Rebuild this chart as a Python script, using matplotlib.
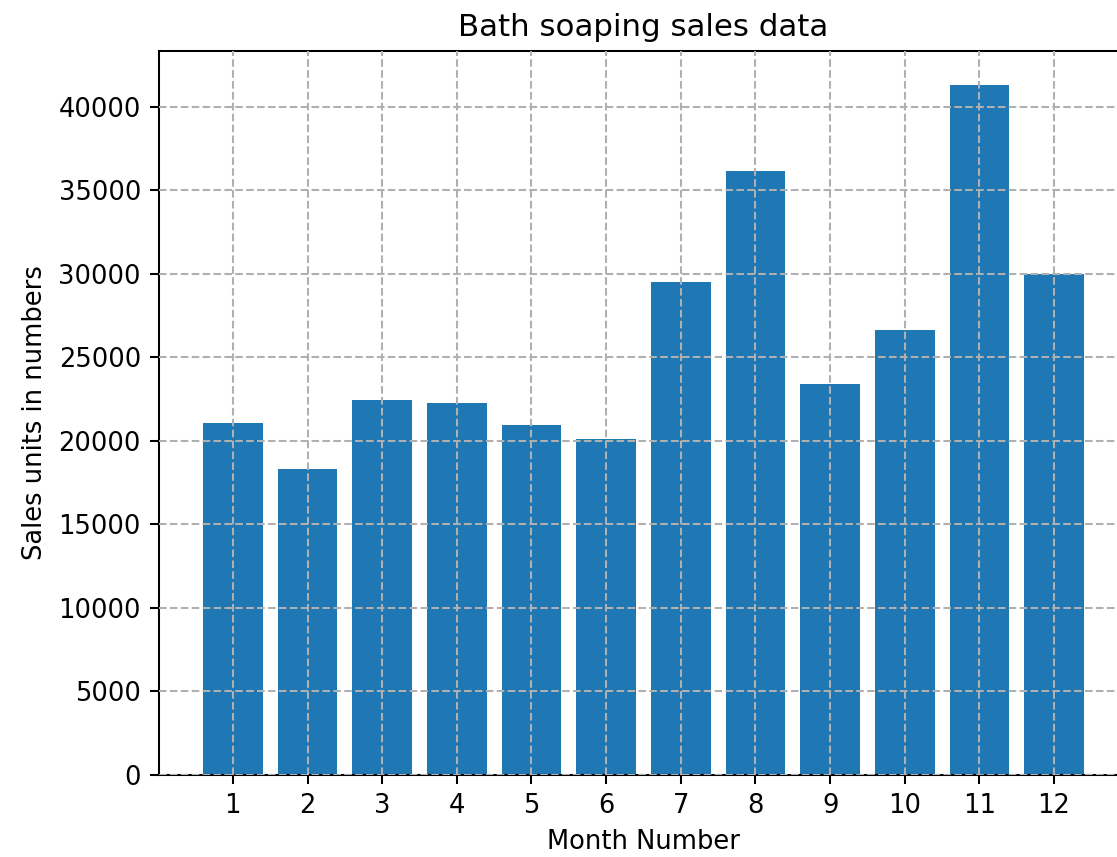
import matplotlib
matplotlib.use("Agg")
import matplotlib.pyplot as plt

## Monthly bathing soap sales
months = [1, 2, 3, 4, 5, 6, 7, 8, 9, 10, 11, 12]
bath_soap = [21100, 18330, 22470, 22270, 20960, 20140, 29520, 36140, 23400, 26670, 41280, 30020]

DPI = 185
fig = plt.figure(figsize=(1117 / DPI, 857 / DPI), dpi=DPI)
# axes runs slightly past the right edge like the cropped original
ax = fig.add_axes([0.1423, 0.0957, 0.8675, 0.8448])

ax.bar(months, bath_soap)
ax.set_xticks(months)
ax.set_xlabel('Month Number')
ax.set_ylabel('Sales units in numbers')
ax.set_title('Bath soaping sales data')
ax.grid(True, linestyle="--")
ax.set_axisbelow(False)

fig.savefig("out.png", dpi=DPI)
